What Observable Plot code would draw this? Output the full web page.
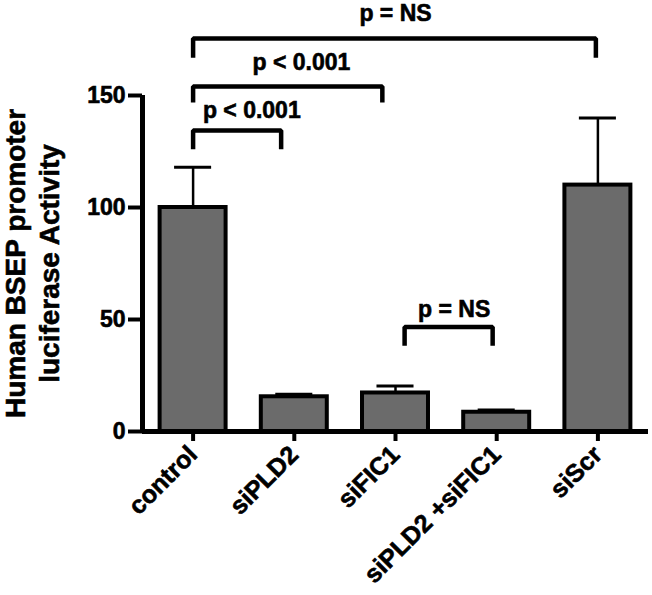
<!DOCTYPE html>
<html>
<head>
<meta charset="utf-8">
<script src="https://cdn.jsdelivr.net/npm/d3@7"></script>
<script src="https://cdn.jsdelivr.net/npm/@observablehq/plot@0.6"></script>
<style>
  html, body { margin: 0; padding: 0; background: #fff; }
  svg text { stroke: #000; stroke-width: 0.6px; }
</style>
</head>
<body>
<div id="chart"></div>
<script>
const categories = ["control", "siPLD2", "siFIC1", "siPLD2 +siFIC1", "siScr"];
const means = [100, 15.5, 17.2, 8.6, 110];
const errTop = [118, 16.6, 20.3, 9.6, 140];
const yTicks = [0, 50, 100, 150];
const yTitle = "Human BSEP promoter\nluciferase Activity";

const bracketLabels = ["p < 0.001", "p < 0.001", "p = NS", "p = NS"];
const bracketFrom = [0, 0, 0, 2.09];
const bracketTo = [0.87, 1.87, 3.98, 2.96];
const bracketTop = [134.4, 154, 175.4, 46.7];
const bracketLeg = [126, 146.9, 166.9, 38.3];
const labelX = [0.58, 1.07, 2.0, 2.58];
const labelY = [143.3, 164.7, 186.5, 54.3];

const bars = categories.map((c, i) => ({i, c, v: means[i], e: errTop[i]}));
const bracketPts = [];
bracketLabels.forEach((l, k) => {
  bracketPts.push({k, x: bracketFrom[k], y: bracketLeg[k]});
  bracketPts.push({k, x: bracketFrom[k], y: bracketTop[k]});
  bracketPts.push({k, x: bracketTo[k], y: bracketTop[k]});
  bracketPts.push({k, x: bracketTo[k], y: bracketLeg[k]});
});
const labels = bracketLabels.map((t, k) => ({t, x: labelX[k], y: labelY[k]}));

const halfW = 0.326, capW = 0.183;

const chart = Plot.plot({
  width: 652,
  height: 595,
  marginTop: 95,
  marginBottom: 164,
  marginLeft: 142,
  marginRight: 4,
  style: {fontFamily: "'Liberation Sans', Arial, sans-serif", fontWeight: "bold", color: "black", background: "white"},
  x: {domain: [-0.5, 4.5]},
  y: {domain: [0, 150]},
  marks: [
    Plot.rectY(bars, {x1: d => d.i - halfW, x2: d => d.i + halfW, y1: 0, y2: "v", fill: "#6b6b6b", stroke: "black", strokeWidth: 4}),
    Plot.ruleX(bars, {x: "i", y1: "v", y2: "e", stroke: "black", strokeWidth: 2.5}),
    Plot.ruleY(bars, {y: "e", x1: d => d.i - capW, x2: d => d.i + capW, stroke: "black", strokeWidth: 3}),
    Plot.line(bracketPts, {x: "x", y: "y", z: "k", stroke: "black", strokeWidth: 4.5, strokeLinejoin: "miter", strokeLinecap: "butt"}),
    Plot.text(labels, {x: "x", y: "y", text: "t", fontSize: 23, fontWeight: "bold", fill: "black"}),
    Plot.ruleY([0], {stroke: "black", strokeWidth: 5}),
    Plot.ruleX([-0.5], {y1: 0, y2: 150, stroke: "black", strokeWidth: 5}),
    Plot.axisY({ticks: yTicks, tickSize: 14, tickPadding: 3, strokeWidth: 4, fontSize: 23, label: null}),
    Plot.axisX({ticks: [0, 1, 2, 3, 4], tickFormat: i => categories[i], tickRotate: -45, tickSize: 10, tickPadding: 9, strokeWidth: 4, fontSize: 25, label: null}),
    Plot.text([yTitle], {text: d => d, frameAnchor: "left", rotate: -90, dx: 31 - 142, fontSize: 28, fontWeight: "bold", lineHeight: 1.2, textAnchor: "middle", fill: "black"})
  ]
});
document.getElementById("chart").appendChild(chart);
</script>
</body>
</html>
